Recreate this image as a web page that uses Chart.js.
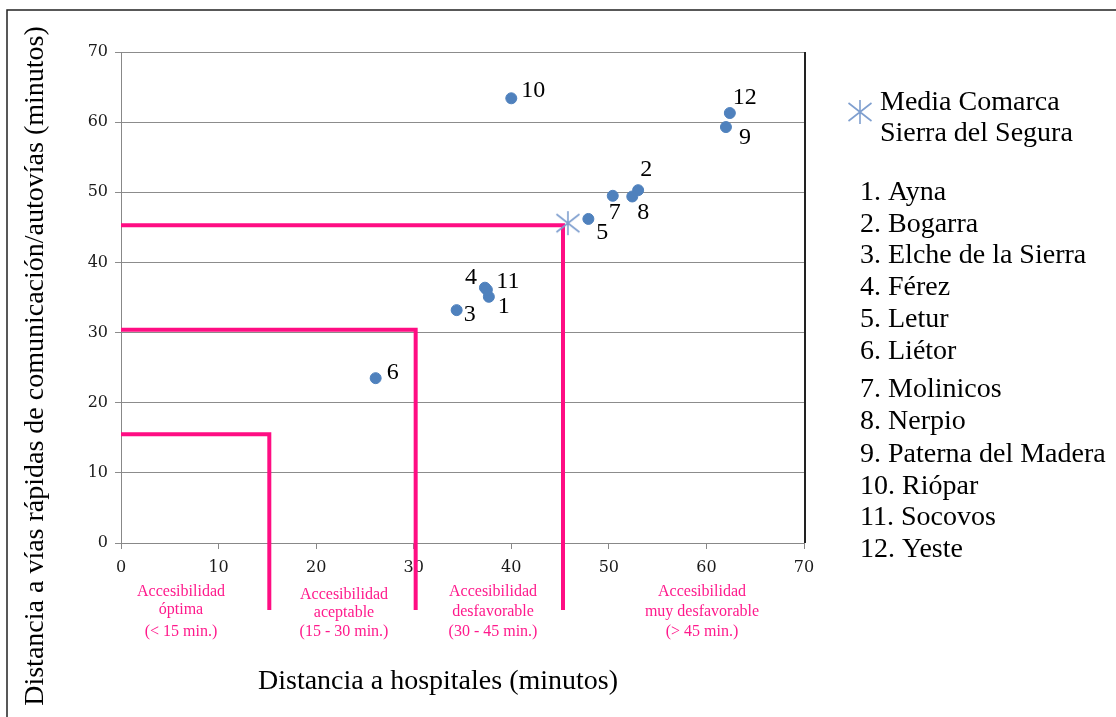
<!DOCTYPE html>
<html lang="es">
<head>
<meta charset="UTF-8" />
<title>Accesibilidad - Sierra del Segura</title>
<script src="https://cdn.jsdelivr.net/npm/chart.js"></script>
<style>
  html, body { margin: 0; padding: 0; background: #fff; }
  #wrap { width: 1116px; height: 717px; }
</style>
</head>
<body>
<div id="wrap"><canvas id="chartCanvas" width="1116" height="717"></canvas></div>
<script>
// datos (minutos)
const municipios = ['Ayna', 'Bogarra', 'Elche de la Sierra', 'Férez', 'Letur', 'Liétor',
  'Molinicos', 'Nerpio', 'Paterna del Madera', 'Riópar', 'Socovos', 'Yeste'];
const distHospital = [37.7, 53.0, 34.4, 37.3, 47.9, 26.1, 50.4, 52.4, 62.0, 40.0, 37.5, 62.4];
const distAutovia  = [35.1, 50.3, 33.2, 36.4, 46.2, 23.5, 49.5, 49.4, 59.3, 63.4, 36.1, 61.3];
const mediaHospital = [45.8];
const mediaAutovia = [45.6];
const umbralX = [15.2, 30.2, 45.3];
const umbralY = [15.5, 30.4, 45.3];
const axisTicks = [0, 10, 20, 30, 40, 50, 60, 70];
const tramos = [
  ['Accesibilidad', 'óptima', '(< 15 min.)'],
  ['Accesibilidad', 'aceptable', '(15 - 30 min.)'],
  ['Accesibilidad', 'desfavorable', '(30 - 45 min.)'],
  ['Accesibilidad', 'muy desfavorable', '(> 45 min.)']
];

// desplazamiento (px) de cada etiqueta numerica respecto a su punto
const labelOffsets = [[15, 10], [8, -20], [13, 5], [-14, -10], [14, 14], [17, -5],
  [2, 17], [11, 16], [19, 11], [22, -8], [21, -8], [15, -15]];

const PINK = '#ff0d83';
const SERIF = '"Liberation Serif", "Times New Roman", serif';

function makeStar() {
  const c = document.createElement('canvas');
  c.width = 28; c.height = 28;
  const g = c.getContext('2d');
  g.strokeStyle = '#7f9fcf';
  g.lineWidth = 1.6;
  g.beginPath();
  g.moveTo(14, 2); g.lineTo(14, 26);
  g.moveTo(2.5, 5); g.lineTo(25.5, 23);
  g.moveTo(2.5, 23); g.lineTo(25.5, 5);
  g.stroke();
  return c;
}
const starImg = makeStar();

const decor = {
  id: 'decor',
  beforeDatasetsDraw(chart) {
    const { ctx, scales: { x, y }, chartArea } = chart;
    ctx.save();
    // lineas de umbral
    ctx.strokeStyle = PINK;
    ctx.lineWidth = 4;
    ctx.lineCap = 'butt';
    umbralX.forEach((ux, i) => {
      const px = x.getPixelForValue(ux);
      const py = y.getPixelForValue(umbralY[i]);
      ctx.beginPath();
      ctx.moveTo(chartArea.left, py);
      ctx.lineTo(px, py);
      ctx.lineTo(px, 610);
      ctx.stroke();
    });
    // borde derecho del area de trazado
    ctx.strokeStyle = '#222';
    ctx.lineWidth = 2;
    ctx.beginPath();
    ctx.moveTo(chartArea.right + 1, chartArea.top);
    ctx.lineTo(chartArea.right + 1, chartArea.bottom);
    ctx.stroke();
    ctx.restore();
  },
  afterDraw(chart) {
    const { ctx, scales: { x, y } } = chart;
    ctx.save();
    // marco exterior
    ctx.strokeStyle = '#222';
    ctx.lineWidth = 1.5;
    ctx.beginPath();
    ctx.moveTo(7, 717);
    ctx.lineTo(7, 10);
    ctx.lineTo(1116, 10);
    ctx.stroke();

    // numeros junto a los puntos
    ctx.fillStyle = '#000';
    ctx.font = '24px ' + SERIF;
    ctx.textAlign = 'center';
    ctx.textBaseline = 'middle';
    distHospital.forEach((v, i) => {
      const px = x.getPixelForValue(v) + labelOffsets[i][0];
      const py = y.getPixelForValue(distAutovia[i]) + labelOffsets[i][1];
      ctx.fillText(String(i + 1), px, py);
    });

    // titulos de ejes
    ctx.font = '28px ' + SERIF;
    ctx.fillText('Distancia a hospitales (minutos)', 438, 682);
    ctx.save();
    ctx.translate(36, 366);
    ctx.rotate(-Math.PI / 2);
    ctx.fillText('Distancia a vías rápidas de comunicación/autovías (minutos)', 0, 0);
    ctx.restore();

    // leyenda
    ctx.drawImage(starImg, 860 - 14, 112 - 14);
    ctx.textAlign = 'left';
    ctx.fillText('Media Comarca', 880, 103);
    ctx.fillText('Sierra del Segura', 880, 134);
    const ys = [193, 225, 256, 288, 320, 352, 390, 422, 455, 487, 518, 550];
    municipios.forEach((m, i) => {
      ctx.fillText((i + 1) + '. ' + m, 860, ys[i]);
    });

    // rotulos de accesibilidad
    ctx.fillStyle = '#ff1a8c';
    ctx.font = '16px ' + SERIF;
    ctx.textAlign = 'center';
    const cx = [181, 344, 493, 702];
    const rows = [[592, 610, 632], [595, 613, 632], [592, 612, 632], [592, 612, 632]];
    tramos.forEach((t, i) => {
      t.forEach((line, j) => ctx.fillText(line, cx[i], rows[i][j]));
    });
    ctx.restore();
  }
};

const tickFont = { family: '"DejaVu Serif", serif', size: 16 };

new Chart(document.getElementById('chartCanvas'), {
  type: 'scatter',
  data: {
    datasets: [
      {
        label: 'Municipios',
        data: distHospital.map((v, i) => ({ x: v, y: distAutovia[i] })),
        backgroundColor: '#4f81bd',
        borderColor: '#4f81bd',
        pointRadius: 5.5,
        pointHoverRadius: 5.5
      },
      {
        label: 'Media Comarca Sierra del Segura',
        data: mediaHospital.map((v, i) => ({ x: v, y: mediaAutovia[i] })),
        pointStyle: starImg,
        pointRadius: 12
      }
    ]
  },
  options: {
    responsive: false,
    devicePixelRatio: 1,
    animation: false,
    layout: { padding: { left: 0, right: 312, top: 52, bottom: 0 } },
    plugins: { legend: { display: false }, tooltip: { enabled: false } },
    scales: {
      x: {
        type: 'linear', min: 0, max: 70,
        afterBuildTicks: s => { s.ticks = axisTicks.map(v => ({ value: v })); },
        ticks: { font: tickFont, color: '#1a1a1a', padding: 9 },
        grid: { drawOnChartArea: false, drawTicks: true, tickLength: 6, color: '#888' },
        border: { color: '#888', width: 1 },
        afterFit: s => { s.height = 174; }
      },
      y: {
        type: 'linear', min: 0, max: 70,
        afterBuildTicks: s => { s.ticks = axisTicks.map(v => ({ value: v })); },
        ticks: { font: tickFont, color: '#1a1a1a', padding: 7 },
        grid: { color: '#8c8c8c', tickLength: 6 },
        border: { color: '#888', width: 1 },
        afterFit: s => { s.width = 121; }
      }
    }
  },
  plugins: [decor]
});
</script>
</body>
</html>
